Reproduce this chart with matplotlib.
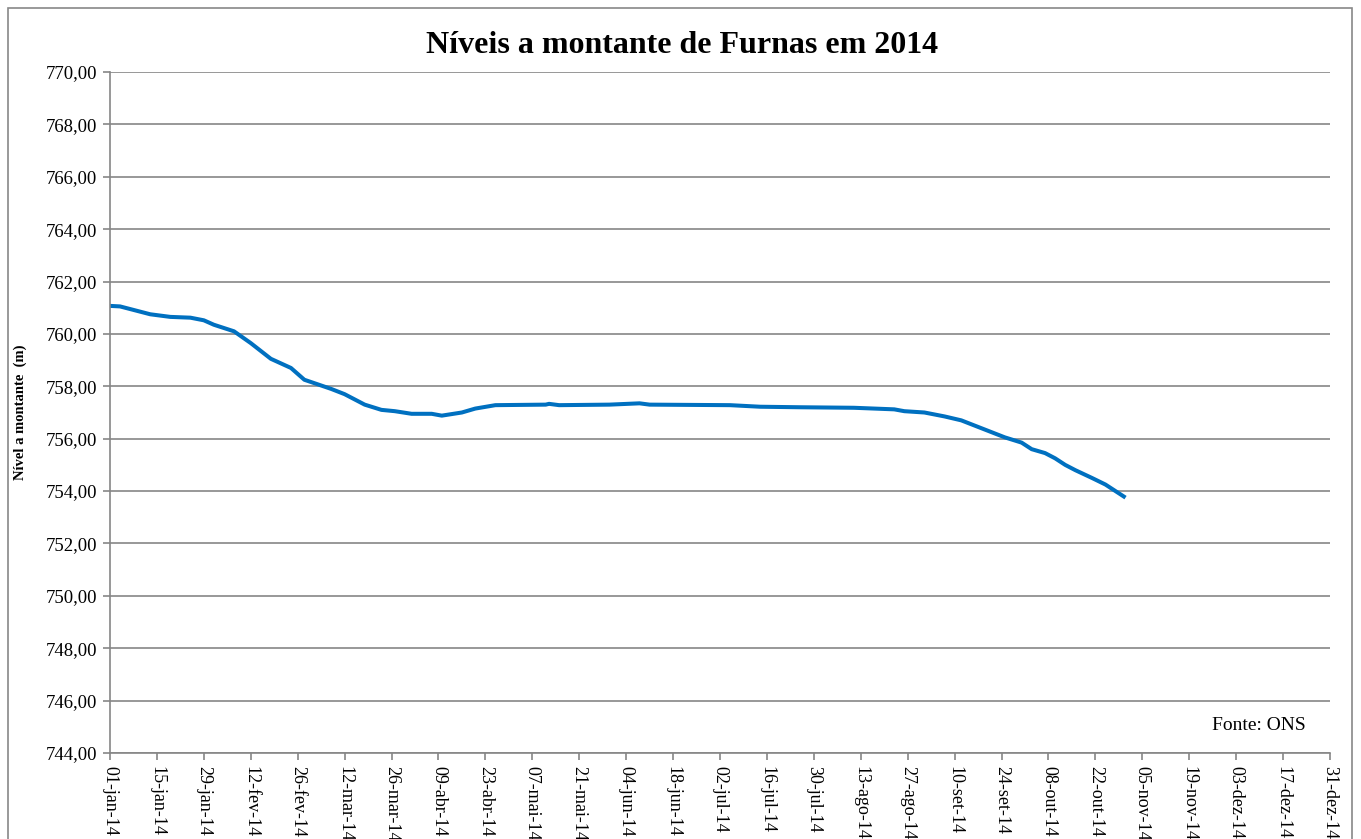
import datetime as dt
import matplotlib
matplotlib.use("Agg")
import matplotlib.pyplot as plt
from matplotlib.patches import Rectangle
from matplotlib.ticker import FuncFormatter

plt.rcParams['font.family'] = ['Liberation Serif', 'DejaVu Serif']

# leituras (data, nivel em m)
datas = ["2014-01-01", "2014-01-04", "2014-01-07", "2014-01-13", "2014-01-19",
         "2014-01-25", "2014-01-29", "2014-02-01", "2014-02-07", "2014-02-12",
         "2014-02-18", "2014-02-24", "2014-02-28", "2014-03-08", "2014-03-12",
         "2014-03-18", "2014-03-23", "2014-03-27", "2014-04-01", "2014-04-07",
         "2014-04-10", "2014-04-16", "2014-04-20", "2014-04-26", "2014-05-11",
         "2014-05-12", "2014-05-15", "2014-05-30", "2014-06-08", "2014-06-11",
         "2014-07-05", "2014-07-14", "2014-07-26", "2014-08-11", "2014-08-23",
         "2014-08-26", "2014-09-01", "2014-09-07", "2014-09-12", "2014-09-16",
         "2014-09-21", "2014-09-25", "2014-09-30", "2014-10-03", "2014-10-07",
         "2014-10-10", "2014-10-13", "2014-10-16", "2014-10-21", "2014-10-25",
         "2014-10-28", "2014-10-31"]
niveis = [761.07, 761.05, 760.95, 760.75, 760.65,
          760.62, 760.52, 760.35, 760.10, 759.65,
          759.05, 758.70, 758.25, 757.90, 757.70,
          757.30, 757.10, 757.05, 756.95, 756.95,
          756.88, 757.00, 757.15, 757.28, 757.30,
          757.33, 757.28, 757.30, 757.35, 757.30,
          757.28, 757.22, 757.20, 757.18, 757.12,
          757.05, 757.00, 756.85, 756.70, 756.50,
          756.25, 756.05, 755.85, 755.60, 755.45,
          755.25, 755.00, 754.80, 754.50, 754.25,
          754.00, 753.75]
meses = ["jan", "fev", "mar", "abr", "mai", "jun",
         "jul", "ago", "set", "out", "nov", "dez"]

x = [dt.datetime.strptime(d, "%Y-%m-%d") for d in datas]

fig = plt.figure(figsize=(13.61, 8.39), dpi=100)
ax = fig.add_axes([0.0808, 0.1025, 0.8964, 0.8117])

# moldura externa
fig.patches.append(Rectangle((8/1361, -0.05), 1344/1361, 1.05 - 8/839,
                             transform=fig.transFigure, fill=False,
                             edgecolor="#888888", linewidth=1.2))

ax.plot(x, niveis, color="#0070C0", linewidth=2.9, solid_capstyle="butt")

inicio = dt.datetime(2014, 1, 1)
fim = dt.datetime(2014, 12, 31)
ax.set_xlim(inicio, fim)
ax.set_ylim(744, 770)
ax.set_yticks(range(744, 771, 2))
ax.yaxis.set_major_formatter(FuncFormatter(lambda v, p: f"{v:.2f}".replace(".", ",")))

ticks = [inicio + dt.timedelta(days=14 * i) for i in range(27)]
ax.set_xticks(ticks)
ax.set_xticklabels([f"{t.day:02d}-{meses[t.month - 1]}-14" for t in ticks],
                   rotation=270, fontsize=13)

ax.grid(axis="y", color="#868686", linewidth=1.2)
ax.set_axisbelow(True)
for s in ["top", "right"]:
    ax.spines[s].set_visible(False)
for s in ["left", "bottom"]:
    ax.spines[s].set_color("#868686")
    ax.spines[s].set_linewidth(1.2)
ax.tick_params(axis="both", color="#868686", length=5, width=1.2)
ax.tick_params(axis="y", labelsize=13.5, pad=4)
ax.tick_params(axis="x", pad=4)

ax.set_ylabel("Nível a montante  (m)", fontsize=10.5, fontweight="bold", labelpad=14)
fig.text(0.501, 0.946, "Níveis a montante de Furnas em 2014", ha="center",
         va="center", fontsize=23, fontweight="bold")
ax.text(0.980, 0.040, "Fonte: ONS", transform=ax.transAxes, ha="right",
        va="center", fontsize=14)

fig.savefig("out.png", dpi=100)
